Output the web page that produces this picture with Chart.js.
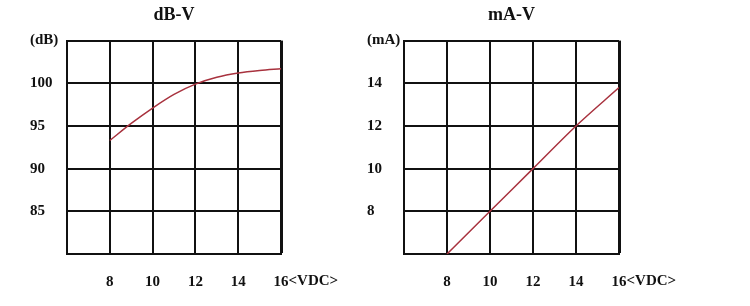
<!DOCTYPE html>
<html>
<head>
<meta charset="utf-8">
<script src="https://cdn.jsdelivr.net/npm/chart.js@4/dist/chart.umd.min.js"></script>
<style>
  body { margin: 0; background: #fff; }
  #wrap { position: relative; width: 750px; height: 306px; }
  canvas { position: absolute; top: 0; }
</style>
</head>
<body>
<div id="wrap">
  <canvas id="db" width="340" height="306" style="left:0"></canvas>
  <canvas id="ma" width="410" height="306" style="left:340px"></canvas>
</div>
<script>
// dB-V curve
const dbVolts = [8, 9, 10, 11, 12, 13, 14, 15, 16];
const dbValues = [93.3, 95.3, 97.1, 98.7, 99.9, 100.7, 101.2, 101.5, 101.7];

// mA-V line
const maVolts = [8, 10, 12, 14, 16];
const maValues = [6, 8, 10, 12, 13.8];

const xTicks = [6, 8, 10, 12, 14, 16];
const dbTicks = [80, 85, 90, 95, 100, 105];
const maTicks = [6, 8, 10, 12, 14, 16];

const ink = '#111';
const curve = '#a8323e';
const tickFont = { family: 'Liberation Serif', size: 15, weight: 'bold' };

// "<VDC>" unit written after the last x tick label
const unitLabel = {
  id: 'unitLabel',
  afterDraw(chart) {
    const {ctx, chartArea: {bottom}} = chart;
    const xs = chart.scales.x;
    const px = xs.getPixelForValue(16);
    ctx.save();
    ctx.font = 'bold 15px "Liberation Serif"';
    ctx.fillStyle = ink;
    ctx.textBaseline = 'middle';
    const w = ctx.measureText('16').width;
    ctx.fillText('<VDC>', px + w / 2, bottom + 27);
    ctx.restore();
  }
};

function makeChart(el, title, xs, ys, yTicks, unit, pad) {
  const ymin = yTicks[0], ymax = yTicks[yTicks.length - 1];
  return new Chart(el, {
    type: 'line',
    data: {
      datasets: [{
        data: xs.map((x, i) => ({x: x, y: ys[i]})),
        borderColor: curve,
        borderWidth: 1.5,
        pointRadius: 0,
        fill: false,
        cubicInterpolationMode: 'monotone'
      }]
    },
    options: {
      responsive: false,
      animation: false,
      layout: { padding: pad },
      plugins: {
        legend: { display: false },
        tooltip: { enabled: false },
        title: {
          display: true,
          text: title,
          fullSize: false,
          color: ink,
          font: { family: 'Liberation Serif', size: 18, weight: 'bold' },
          padding: { top: 5, bottom: 14 }
        }
      },
      scales: {
        x: {
          type: 'linear',
          min: 6, max: 16,
          afterBuildTicks: s => { s.ticks = xTicks.map(v => ({value: v})); },
          afterFit: s => { s.height = 52; },
          grid: {
            color: ink,
            lineWidth: c => c.tick && c.tick.value === 16 ? 3 : 2,
            drawTicks: false
          },
          border: { color: ink, width: 2 },
          ticks: {
            color: ink,
            font: tickFont,
            padding: 19,
            callback: v => v === 6 ? '' : String(v)
          }
        },
        y: {
          min: ymin, max: ymax,
          afterBuildTicks: s => { s.ticks = yTicks.map(v => ({value: v})); },
          afterFit: s => { s.width = 37; },
          grid: { color: ink, lineWidth: 2, drawTicks: false },
          border: { color: ink, width: 2 },
          ticks: {
            color: ink,
            font: tickFont,
            crossAlign: 'far',
            padding: 0,
            callback: v => v === ymax ? unit : (v === ymin ? '' : String(v))
          }
        }
      }
    },
    plugins: [unitLabel]
  });
}

makeChart(document.getElementById('db'), 'dB-V', dbVolts, dbValues, dbTicks, '(dB)',
  { left: 30, right: 59, top: 0, bottom: 0 });
makeChart(document.getElementById('ma'), 'mA-V', maVolts, maValues, maTicks, '(mA)',
  { left: 27, right: 131, top: 0, bottom: 0 });
</script>
</body>
</html>
